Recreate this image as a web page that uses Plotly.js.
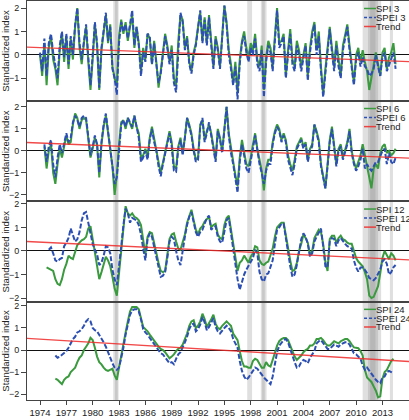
<!DOCTYPE html>
<html>
<head>
<meta charset="utf-8">
<script src="https://cdn.plot.ly/plotly-3.0.1.min.js"></script>
<style>
  html, body { margin: 0; padding: 0; overflow: hidden; background: #fff; }
  #plot { width: 418px; height: 420px; }
</style>
</head>
<body>
<div id="plot"></div>
<script>
// quarterly index values, first value at the start year
var spi3Start = 1974.0;
var spi3 = [
  0.0, -0.9, 0.5, -1.3,   0.3, 0.8, -0.2, -0.6,   -1.3, 0.2, 0.9, -0.3,   0.8, -0.6, 0.7, -0.2,
  1.2, 2.0, 0.3, -0.4,    0.5, 1.2, -0.3, -1.5,   -0.2, 1.3, 0.4, -1.5,   0.2, 1.1, 1.7, 0.5,
  1.3, -0.5, -1.0, -1.3,  0.8, 1.5, 0.9, 1.4,     0.6, 1.2, 1.7, 0.3,     1.2, 0.5, -0.7, 0.3,
  -0.2, 0.9, 0.7, -0.4,   0.6, -0.3, -1.4, -0.7,  0.2, 0.9, 0.4, -0.3,    0.4, -1.0, -1.3, 0.6,
  1.7, 1.5, 0.3, 0.8,     -0.3, -0.7, 0.1, 0.5,   1.2, 1.8, 0.6, 1.6,     0.5, 1.7, 0.6, -0.5,
  0.8, 0.3, -0.5, 0.9,    2.1, 1.4, 0.2, -0.4,    -1.2, -0.3, -1.6, -0.2, 0.6, 1.0, 0.3, -0.1,
  0.5, 0.2, 0.9, -0.2,    -0.5, 0.4, -1.5, -0.1,  0.6, 0.3, -0.5, 0.8,    2.0, 0.5, 0.6, 0.9,
  -0.9, 0.2, 1.1, -0.2,   -0.5, 0.6, 0.2, -0.5,   0.1, 0.5, -0.9, 0.3,    1.0, 1.4, 0.2, 1.0,
  -0.5, -1.7, -0.6, 0.3,  1.2, 0.3, -0.5, 0.6,    -0.3, -0.9, 0.4, 0.8,   1.3, 0.4, -0.5, -1.2,
  0.0, 0.3, -0.3, 0.2,    -0.3, -0.7, -1.5, -0.9, -0.4, 0.1, -0.4, -0.9,  0.1, 0.3, -0.6, -0.1,
  0.1, 0.5, -0.4
];
var spei3Start = 1974.0;
var spei3 = [
  0.1, -0.7, 0.7, -0.9,   0.5, 0.9, 0.1, -0.4,    -1.0, 0.4, 1.0, -0.1,   0.9, -0.4, 0.8, 0.0,
  1.3, 2.0, 0.5, -0.2,    0.6, 1.3, -0.1, -1.3,   0.0, 1.4, 0.5, -1.4,    0.3, 1.2, 1.8, 0.6,
  1.2, -0.6, -1.0, -1.7,  0.5, 1.4, 1.0, 1.3,     0.7, 1.3, 1.9, 0.4,     1.2, 0.4, -0.9, 0.1,
  -0.3, 0.9, 0.8, -0.4,   0.5, -0.4, -1.2, -0.8,  0.1, 0.8, 0.3, -0.4,    0.2, -1.2, -1.6, 0.4,
  1.8, 1.4, 0.2, 0.7,     -0.4, -0.8, 0.0, 0.4,   1.1, 1.9, 0.5, 1.5,     0.4, 1.6, 0.4, -0.6,
  0.7, 0.2, -0.6, 0.8,    2.1, 1.3, 0.0, -0.6,    -1.3, -0.5, -1.9, -0.4, 0.5, 0.8, 0.1, -0.3,
  0.3, 0.0, 0.7, -0.4,    -0.7, 0.2, -1.8, -0.3,  0.4, 0.1, -0.7, 0.6,    1.9, 0.3, 0.5, 0.8,
  -1.0, 0.0, 0.9, -0.4,   -0.7, 0.4, 0.0, -0.7,   -0.1, 0.4, -1.1, 0.1,   0.8, 1.3, 0.0, 0.8,
  -0.7, -1.8, -0.8, 0.1,  1.1, 0.1, -0.7, 0.4,    -0.5, -1.0, 0.2, 0.7,   1.2, 0.2, -0.7, -1.3,
  -0.2, 0.1, -0.5, -0.1,  -0.5, -0.6, -0.9, -0.8, -0.6, 0.0, -0.5, -0.9,  -0.1, 0.1, -0.7, -0.4,
  -0.2, 0.1, -0.6
];

var spi6Start = 1974.5;
var spi6 = [
  0.2, -0.8,
  0.0, 0.3, -1.0, -1.5,   -0.6, 0.1, -0.3, 0.2,   0.7, 0.3, 0.4, 1.2,     1.7, 1.5, 1.0, 1.4,
  1.5, 1.4, 0.6, -0.3,    0.1, 0.6, 0.3, -1.2,    0.3, 1.1, 1.6, 0.9,     0.0, -0.7, -2.0, -1.1,
  0.3, 1.3, 1.4, 1.0,     1.5, 1.2, 1.0, 1.6,     1.1, 0.8, -0.3, -0.2,   0.1, -0.3, 0.6, 1.1,
  0.5, 0.1, -0.5, -1.0,   -0.5, 0.0, 0.5, 0.9,    0.4, -0.7, -0.8, 0.2,   0.6, -0.1, 0.6, 1.5,
  1.2, 0.8, 0.1, -0.4,    -0.3, 1.2, 1.4, 0.5,    0.9, 1.2, 0.8, 0.1,     -0.4, 1.0, 0.6, 0.0,
  1.2, 2.0, 0.8, 0.1,     -0.4, -1.1, -1.6, -0.3, 0.5, 0.0, -0.6, -0.7,   -0.3, 0.3, 0.8, 0.1,
  -0.4, -0.9, -1.8, -0.8, -0.4, -0.4, 0.4, 0.9,   1.2, 1.0, 0.5, 0.8,     0.5, -0.2, -0.6, -0.9,
  -0.4, 0.2, 0.4, 0.6,    0.2, 0.4, -0.4, 0.1,    0.3, 1.2, 0.9, 0.5,     -0.6, -1.2, -1.7, -0.6,
  0.5, 1.1, 0.3, -0.6,    0.1, 0.3, -0.3, 0.1,    0.4, 1.0, 0.0, -0.5,    -0.8, -0.5, -0.2, 0.3,
  -0.2, -0.6, -1.2, -1.7, -0.8, -0.6, -0.8, -0.1, 0.2, 0.3, -0.1, 0.0,    -0.2, -0.1, 0.1
];
var spei6Start = 1974.5;
var spei6 = [
  0.3, -0.5,
  0.2, 0.5, -0.6, -1.2,   -0.3, 0.3, -0.1, 0.3,   0.8, 0.4, 0.6, 1.3,     1.6, 1.4, 1.1, 1.5,
  1.6, 1.5, 0.7, -0.2,    0.2, 0.7, 0.3, -1.0,    0.4, 1.2, 1.7, 1.0,     0.1, -0.7, -1.5, -1.2,
  0.2, 1.2, 1.4, 1.1,     1.5, 1.3, 1.1, 1.6,     1.0, 0.6, -0.5, -0.3,   0.0, -0.4, 0.5, 1.0,
  0.4, 0.0, -0.7, -1.15,  -0.6, -0.1, 0.4, 0.8,   0.2, -0.9, -0.95, 0.1,  0.5, -0.2, 0.6, 1.5,
  1.1, 0.7, 0.0, -0.5,    -0.4, 1.1, 1.5, 0.4,    0.8, 1.3, 0.7, 0.0,     -0.5, 0.9, 0.5, -0.1,
  1.1, 2.0, 0.7, -0.1,    -0.6, -1.3, -1.9, -0.5, 0.3, -0.2, -0.8, -1.0,  -0.5, 0.1, 0.7, 0.0,
  -0.6, -1.0, -1.5, -0.9, -0.6, -0.6, 0.3, 0.8,   1.1, 0.9, 0.4, 0.7,     0.4, -0.4, -0.8, -1.1,
  -0.6, 0.1, 0.3, 0.5,    0.1, 0.3, -0.5, 0.0,    0.2, 1.2, 0.8, 0.4,     -0.7, -1.3, -1.7, -0.7,
  0.4, 1.0, 0.2, -0.7,    0.0, 0.2, -0.4, 0.0,    0.3, 0.9, -0.1, -0.6,   -0.9, -0.7, -0.4, 0.1,
  -0.8, -0.6, -0.8, -0.9, -0.7, -0.5, -0.5, -0.2, 0.0, 0.1, -0.6, -0.1,   -0.5, -0.6, -0.3
];

var spi12Start = 1974.75;
var spi12 = [
  -0.7,
  -0.75, -0.8, -0.85, -1.2,  -1.4, -1.45, -1.2, -0.8,  -0.55, -0.2, -0.3, -0.35,  0.0, 0.25, 0.35, 0.45,
  0.5, 0.6, 0.95, 1.05,      0.5, -0.1, -0.5, -1.2,    -0.9, -0.6, -0.25, -0.4,   -0.65, -1.1, -1.6, -1.9,
  -0.9, 0.1, 1.0, 1.9,       1.6, 1.5, 1.6, 1.45,      1.4, 1.3, 1.1, 0.4,        -0.15, 0.6, 0.8, 0.75,
  0.3, -0.1, -0.5, -0.85,    -0.9, -0.85, -0.2, 0.5,   0.7, 0.75, 0.4, 0.1,       0.05, 0.4, 0.7, 1.2,
  1.5, 1.75, 1.3, 0.9,       0.7, 0.95, 1.05, 1.25,    1.35, 1.45, 1.0, 1.1,      1.15, 0.7, 0.55, 0.5,
  1.1, 1.4, 1.5, 0.9,        0.3, -0.3, -0.85, -0.5,   -0.4, -0.2, -0.35, -0.5,   -0.25, -0.1, 0.2, 0.15,
  -0.4, -0.55, -0.6, -0.5,   -0.45, -0.2, 0.1, 0.6,    1.0, 1.1, 1.2, 1.2,        0.6, 0.1, -0.4, -0.85,
  -0.8, -0.5, 0.0, 0.3,      0.7, 0.55, 0.35, -0.15,   0.0, 0.55, 0.7, 0.9,       0.8, 0.3, -0.45, -0.85,
  0.5, 0.65, 0.65, 0.35,     0.55, 0.65, 0.5, 0.45,    0.35, 0.3, 0.3, 0.0,       -0.3, -0.45, -0.55, -0.65,
  -0.9, -1.2, -1.9, -2.0,    -1.95, -1.75, -1.5, -0.95, -0.3, 0.0, -0.2, -0.35,   -0.1, -0.2, -0.4
];
var spei12Start = 1975.0;
var spei12 = [
  0.05, 0.15, -0.1, -0.4,    -0.45, -0.35, -0.3, 0.2,  0.35, 0.55, 0.95, 0.7,     0.4, 0.5, 0.8, 1.3,
  1.6, 1.65, 1.2, 0.9,       0.3, 0.05, -0.15, -0.6,   -0.5, -0.2, 0.2, 0.15,     -0.1, -0.8, -1.2, -1.45,
  -0.7, 0.2, 1.1, 1.8,       1.6, 1.2, 1.4, 1.35,      1.3, 1.1, 0.7, 0.1,        -0.4, 0.5, 0.75, 0.6,
  0.15, -0.3, -0.65, -1.1,   -1.05, -0.9, -0.3, 0.4,   0.6, 0.5, 0.0, -0.4,       -0.6, 0.1, 0.6, 1.1,
  1.45, 1.65, 1.2, 0.8,      0.6, 0.8, 0.9, 1.2,       1.4, 1.5, 0.9, 1.0,        1.05, 0.6, 0.4, 0.35,
  0.9, 1.3, 1.4, 0.7,        0.0, -0.6, -1.2, -1.65,   -1.3, -1.0, -0.8, -0.65,   -0.45, -0.3, 0.05, -0.1,
  -0.9, -1.2, -1.3, -1.0,    -0.95, -0.7, -0.4, 0.3,   0.9, 1.0, 1.15, 1.15,      0.5, -0.1, -0.65, -1.1,
  -1.0, -0.6, -0.1, 0.5,     0.75, 0.6, 0.3, -0.25,    -0.1, 0.4, 0.6, 0.8,       0.95, 0.2, -0.65, -0.7,
  0.4, 0.55, 0.5, 0.2,       0.45, 0.55, 0.4, 0.3,     0.2, 0.15, 0.1, -0.4,      -0.7, -0.88, -0.7, -0.7,
  -0.8, -0.95, -1.15, -1.2,  -1.25, -1.15, -1.0, -0.8, -0.45, -0.35, -0.55, -1.0,  -0.9, -0.7, -0.6
];

var spi24Start = 1975.75;
var spi24 = [
  -1.3,
  -1.35, -1.45, -1.55, -1.35, -1.25, -1.2, -1.0, -0.9,  -0.8, -0.55, -0.35, -0.25,  0.0, 0.15, 0.3, 0.55,
  0.45, 0.1, -0.3, -0.55,    -0.65, -0.8, -0.9, -0.95, -0.9, -0.85, -1.15, -1.35,  -0.8, -0.2, 0.4, 0.8,
  1.3, 1.75, 1.95, 1.95,     1.95, 1.85, 1.5, 1.05,    0.95, 0.85, 0.7, 0.55,     0.4, 0.3, 0.15, 0.05,
  0.0, -0.1, -0.25, -0.38,   -0.3, -0.2, -0.05, 0.05,  0.1, 0.25, 0.5, 0.75,      1.1, 1.3, 1.35, 1.0,
  1.1, 1.3, 1.65, 1.4,       1.05, 1.2, 1.4, 1.6,      1.2, 1.0, 0.95, 1.1,       1.2, 1.3, 1.2, 1.1,
  0.75, 0.6, 0.45, -0.05,    -0.5, -0.75, -0.75, -0.8, -0.8, -0.5, -0.4, -0.45,   -0.65, -0.8, -0.8, -0.55,
  -0.7, -0.75, -0.45, -0.1,  0.2, 0.4, 0.5, 0.55,      0.55, 0.45, 0.2, -0.1,     -0.3, -0.45, -0.35, -0.25,
  -0.1, 0.0, 0.05, 0.2,      0.2, 0.3, 0.5, 0.5,       0.55, 0.45, 0.3, 0.2,      0.2, 0.3, 0.4, 0.35,
  0.3, 0.4, 0.45, 0.5,       0.5, 0.4, 0.25, 0.12,     0.1, 0.08, -0.05, -0.25,   -0.9, -1.25, -1.35, -1.45,
  -1.65, -1.85, -2.15, -2.1, -1.3, -1.0, -0.9, -0.7,   -0.5, -0.4
];
var spei24Start = 1975.75;
var spei24 = [
  -0.25,
  -0.35, -0.3, -0.22, -0.15, -0.05, 0.1, 0.3, 0.5,     0.6, 0.8, 0.85, 0.95,      1.1, 1.3, 1.4, 1.3,
  1.0, 0.9, 0.85, 0.7,       0.55, 0.35, 0.15, -0.1,   -0.4, -0.6, -0.8, -0.9,    -0.8, -0.4, 0.1, 0.7,
  1.2, 1.6, 1.8, 1.85,       1.85, 1.75, 1.4, 0.95,    0.8, 0.7, 0.55, 0.4,       0.25, 0.1, -0.05, -0.15,
  -0.2, -0.35, -0.5, -0.6,   -0.55, -0.65, -0.4, -0.2, -0.1, 0.1, 0.35, 0.6,      0.95, 1.15, 1.2, 0.85,
  0.95, 1.15, 1.5, 1.25,     0.9, 1.05, 1.25, 1.45,    1.05, 0.85, 0.75, 0.9,     1.0, 1.1, 1.0, 0.85,
  0.5, 0.3, 0.1, -0.5,       -0.95, -1.2, -1.35, -1.25, -1.1, -0.9, -0.8, -0.85,  -1.0, -1.1, -1.25, -1.35,
  -1.45, -1.55, -1.2, -0.6,  -0.1, 0.2, 0.35, 0.45,    0.5, 0.35, 0.05, -0.3,     -0.55, -0.8, -0.75, -0.55,
  -0.45, -0.5, -0.6, -0.35,  -0.2, -0.05, 0.3, 0.4,    0.45, 0.3, 0.15, 0.05,     0.05, 0.15, 0.25, 0.2,
  0.15, 0.25, 0.3, 0.35,     0.35, 0.25, 0.05, -0.15,  -0.2, -0.3, -0.4, -0.7,    -0.9, -0.8, -0.95, -1.1,
  -1.2, -1.35, -1.45, -1.5,  -1.25, -1.2, -1.0, -0.95, -1.0, -1.05
];

// linear trend, values at the left and right ends of the time axis
var trendYears = [1972.5, 2016.1];
var trend3 = [0.33, -0.29];
var trend6 = [0.38, -0.33];
var trend12 = [0.40, -0.38];
var trend24 = [0.53, -0.52];

// drought periods (grey bands)
var droughtFrom = [1982.35, 1982.55, 1997.6, 1999.15, 1999.3, 2010.75, 2011.35, 2011.6, 2013.85];
var droughtTo   = [1982.95, 1982.85, 1998.15, 1999.8, 1999.6, 2012.85, 2012.5, 2012.2, 2014.2];

var yearTicks = [1974, 1977, 1980, 1983, 1986, 1989, 1992, 1995, 1998, 2001, 2004, 2007, 2010, 2013];

var spiNames = ["SPI 3", "SPI 6", "SPI 12", "SPI 24"];
var speiNames = ["SPEI 3", "SPEI 6", "SPEI 12", "SPEI 24"];

function quarters(start, n) {
  var t = [];
  for (var i = 0; i < n; i++) t.push(start + i * 0.25);
  return t;
}

var green = "#3a9a3e";
var blue = "#2c4fb3";
var red = "rgba(238,40,40,0.85)";
var font = "Liberation Sans, Arial, Helvetica, sans-serif";

var panels = [
  {spi: spi3, spiStart: spi3Start, spei: spei3, speiStart: spei3Start, trend: trend3, range: [-1.97, 2.3]},
  {spi: spi6, spiStart: spi6Start, spei: spei6, speiStart: spei6Start, trend: trend6, range: [-2.3, 2.27]},
  {spi: spi12, spiStart: spi12Start, spei: spei12, speiStart: spei12Start, trend: trend12, range: [-2.17, 2.1]},
  {spi: spi24, spiStart: spi24Start, spei: spei24, speiStart: spei24Start, trend: trend24, range: [-2.27, 2.18]}
];
var domains = [[0.7494, 1], [0.4975, 0.7494], [0.2456, 0.4975], [0, 0.2456]];

var data = [];
var layout = {
  width: 418,
  height: 420,
  margin: {l: 27, r: 0, t: 1, b: 20},
  paper_bgcolor: "#fff",
  plot_bgcolor: "#fff",
  showlegend: false,
  font: {family: font, size: 10, color: "#222"},
  shapes: [],
  annotations: []
};

panels.forEach(function (p, i) {
  var n = i === 0 ? "" : String(i + 1);
  var xa = "x" + n, ya = "y" + n;
  data.push({
    x: quarters(p.spiStart, p.spi.length), y: p.spi,
    xaxis: xa, yaxis: ya, type: "scatter", mode: "lines",
    name: spiNames[i], line: {color: green, width: 2}
  });
  data.push({
    x: quarters(p.speiStart, p.spei.length), y: p.spei,
    xaxis: xa, yaxis: ya, type: "scatter", mode: "lines",
    name: speiNames[i], line: {color: blue, width: 2, dash: "5px,2px"}
  });
  data.push({
    x: trendYears, y: p.trend,
    xaxis: xa, yaxis: ya, type: "scatter", mode: "lines",
    name: "Trend", line: {color: red, width: 1.4}
  });

  var last = i === panels.length - 1;
  layout["xaxis" + n] = {
    domain: [0, 1],
    anchor: ya,
    matches: i === 0 ? undefined : "x",
    range: [1972.52, 2017.05],
    showgrid: false,
    zeroline: false,
    showline: true,
    mirror: true,
    linecolor: "#444",
    linewidth: 1,
    ticks: last ? "outside" : "",
    ticklen: 4,
    tickcolor: "#444",
    tickmode: "array",
    tickvals: yearTicks,
    showticklabels: last,
    tickfont: {size: 9.5, color: "#222"}
  };
  layout["yaxis" + n] = {
    domain: domains[i],
    anchor: xa,
    range: p.range,
    showgrid: false,
    zeroline: true,
    zerolinecolor: "#111",
    zerolinewidth: 1,
    showline: true,
    linecolor: "#444",
    ticks: "outside",
    ticklen: 5,
    tickcolor: "#444",
    tickmode: "array",
    tickvals: [-2, -1, 0, 1, 2],
    tickfont: {size: 9, color: "#222"},
    title: {text: "Standardized index", font: {size: 9.5, color: "#222"}, standoff: 1}
  };

  // legend drawn in the upper right corner of each panel
  var rows = [
    {label: spiNames[i], color: green, dash: "solid"},
    {label: speiNames[i], color: blue, dash: "3px,2px"},
    {label: "Trend", color: red, dash: "solid"}
  ];
  var rowY = [0.925, 0.835, 0.745];
  rows.forEach(function (r, k) {
    layout.shapes.push({
      type: "line", xref: "paper", yref: ya + " domain",
      x0: 0.862, x1: 0.8926, y0: rowY[k], y1: rowY[k],
      line: {color: r.color, width: 1.5, dash: r.dash}
    });
    layout.annotations.push({
      xref: "paper", yref: ya + " domain", x: 0.889, y: rowY[k],
      xanchor: "left", yanchor: "middle", showarrow: false, borderpad: 0,
      text: r.label, font: {size: 9.5, color: "#222"}
    });
  });
});

// grey drought bands across all panels
droughtFrom.forEach(function (d, k) {
  layout.shapes.push({
    type: "rect", xref: "x", yref: "paper", layer: "below",
    x0: d, x1: droughtTo[k], y0: 0, y1: 1,
    fillcolor: "rgba(140,140,140,0.28)", line: {width: 0}
  });
});

Plotly.newPlot("plot", data, layout, {displayModeBar: false, staticPlot: true});
</script>
</body>
</html>
